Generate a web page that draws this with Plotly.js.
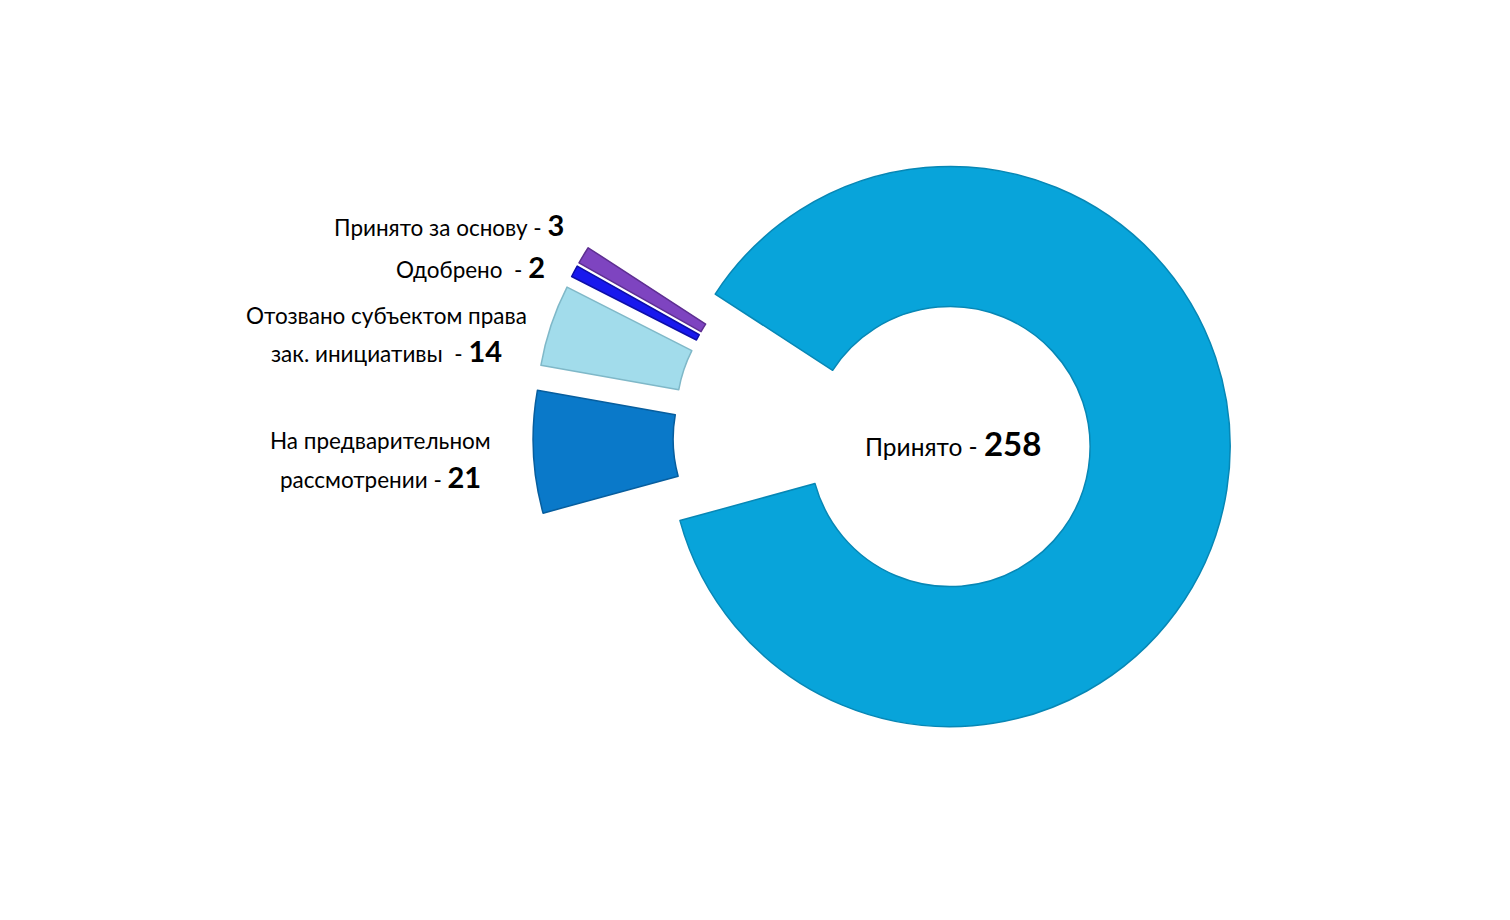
<!DOCTYPE html>
<html>
<head>
<meta charset="utf-8">
<script src="https://cdn.plot.ly/plotly-3.0.1.min.js"></script>
<style>
  html, body { margin: 0; padding: 0; background: #ffffff; }
  #chart { width: 1510px; height: 920px; }
</style>
</head>
<body>
<div id="chart"></div>
<script>
// ---- data ----
const categories = [
  "Принято",
  "На предварительном рассмотрении",
  "Отозвано субъектом права зак. инициативы",
  "Одобрено",
  "Принято за основу"
];
const values = [258, 21, 14, 2, 3];
// label lines: all lines but the last are plain text; the last line is followed by the value
const labelLines = [
  ["Принято - "],
  ["На предварительном", "рассмотрении - "],
  ["Отозвано субъектом права", "зак. инициативы \u00a0- "],
  ["Одобрено \u00a0- "],
  ["Принято за основу - "]
];

// ---- styles ----
const colors = ["#08A4DA", "#0A79C9", "#A2DCEB", "#1818EE", "#7E44C0"];
const lineColors = ["#0787B5", "#075E9E", "#7FB8C8", "#0E0EA8", "#5E2F92"];
const pulls = [0.246, 0.246, 0.246, 0.246, 0.246];

const W = 1510, H = 920;
function px(x) { return x / W; }
function py(y) { return 1 - y / H; }

const trace = {
  type: "pie",
  labels: categories,
  values: values,
  sort: false,
  direction: "clockwise",
  rotation: 303,
  hole: 0.5,
  pull: pulls,
  textinfo: "none",
  hoverinfo: "label+value",
  marker: { colors: colors, line: { color: lineColors, width: 1.5 } },
  domain: { x: [0.3530, 0.8152], y: [0.1468, 0.9054] },
  showlegend: false
};

const fontFamily = "Lato, 'Open Sans', sans-serif";
function valueLine(i, big) {
  const lines = labelLines[i];
  return lines[lines.length - 1] + '<b><span style="font-size:' + big + 'px">' + values[i] + '</span></b>';
}

// label placement: [index, line text, x px, y px, xanchor, font size]
const placed = [
  [valueLine(0, 33), 953, 443, "center", 24.5],
  [valueLine(4, 29), 566, 225, "right", 22.5],
  [valueLine(3, 29), 547, 267, "right", 22.5],
  [labelLines[2][0], 386, 315, "center", 22.5],
  [valueLine(2, 29), 386, 350, "center", 22.5],
  [labelLines[1][0], 381, 440, "center", 22.5],
  [valueLine(1, 29), 381, 476, "center", 22.5]
];

const annotations = placed.map(p => ({
  text: p[0], x: px(p[1]), y: py(p[2]), xanchor: p[3], yanchor: "middle",
  xref: "paper", yref: "paper", showarrow: false,
  font: { family: fontFamily, size: p[4], color: "#000000" }
}));

const layout = {
  width: W, height: H,
  margin: { l: 0, r: 0, t: 0, b: 0 },
  paper_bgcolor: "#ffffff",
  plot_bgcolor: "#ffffff",
  showlegend: false,
  annotations: annotations
};

Plotly.newPlot("chart", [trace], layout, { displayModeBar: false, staticPlot: true });
</script>
</body>
</html>
